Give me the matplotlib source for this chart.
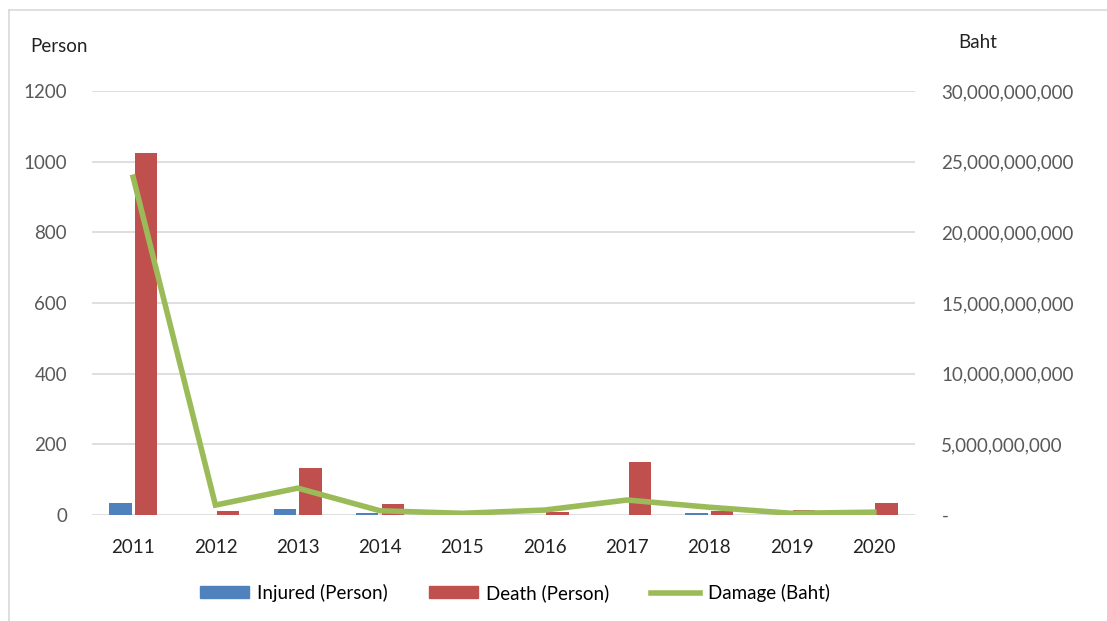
import matplotlib.pyplot as plt
from matplotlib.lines import Line2D
from matplotlib.ticker import FuncFormatter
import numpy as np

years = ['2011', '2012', '2013', '2014', '2015', '2016', '2017', '2018', '2019', '2020']
injured = [34, 0, 17, 5, 0, 0, 0, 5, 0, 0]
death = [1025, 12, 134, 31, 0, 8, 150, 12, 13, 34]
damage = [23.9e9, 0.7e9, 1.9e9, 0.3e9, 0.12e9, 0.35e9, 1.06e9, 0.55e9, 0.12e9, 0.2e9]

BLUE = '#4F81BD'
RED = '#C0504D'
GREEN = '#9BBB59'
GRAY = '#595959'
FS = 13.5

plt.rcParams['font.family'] = ['Lato', 'DejaVu Sans']

fig = plt.figure(figsize=(11.07, 6.21), dpi=100)
ax = fig.add_axes([92/1107, 1-515/621, (915-92)/1107, (515-91)/621])
x = np.arange(len(years))
w = 0.27
ax.bar(x - 0.155, injured, w, color=BLUE, zorder=3)
ax.bar(x + 0.155, death, w, color=RED, zorder=3)
ax.set_xlim(-0.5, len(years) - 0.5)
ax.set_ylim(0, 1200)
ax.set_yticks(range(0, 1201, 200))
ax.set_xticks(x)
ax.set_xticklabels(years)
ax.yaxis.grid(True, color='#D9D9D9', lw=1.2, zorder=0)
ax.tick_params(axis='y', length=0, pad=18, labelsize=FS, labelcolor=GRAY)
ax.tick_params(axis='x', length=0, pad=17, labelsize=FS, labelcolor='#222222')
for s in ax.spines.values():
    s.set_visible(False)

ax2 = ax.twinx()
ax2.plot(x, damage, color=GREEN, lw=4, zorder=4, solid_joinstyle='miter')
ax2.set_ylim(0, 30e9)
ax2.set_yticks(np.arange(0, 30.1e9, 5e9))
ax2.yaxis.set_major_formatter(FuncFormatter(lambda v, p: '-' if v == 0 else '{:,.0f}'.format(v)))
ax2.tick_params(axis='y', length=0, pad=19, labelsize=FS, labelcolor=GRAY)
for s in ax2.spines.values():
    s.set_visible(False)
# line on top of bars
ax.set_zorder(1)
ax2.set_zorder(2)
ax2.patch.set_visible(False)

fig.text(30/1107, 1-46/621, 'Person', fontsize=FS, color='#222222', va='center')
fig.text(958/1107, 1-42/621, 'Baht', fontsize=FS, color='#222222', va='center')

handles = [plt.Rectangle((0, 0), 1, 1, color=BLUE),
           plt.Rectangle((0, 0), 1, 1, color=RED),
           Line2D([], [], color=GREEN, lw=4)]
fig.legend(handles, ['Injured (Person)', 'Death (Person)', 'Damage (Baht)'],
           loc='center', bbox_to_anchor=(515/1107, 1-593/621), ncol=3, frameon=False,
           fontsize=FS, handlelength=2.6, handleheight=0.6, columnspacing=2.2,
           handletextpad=0.45)

# chart frame
fig.add_artist(Line2D([9/1107, 9/1107], [0, 1-10/621], color='#D9D9D9', lw=1.2))
fig.add_artist(Line2D([9/1107, 1], [1-10/621, 1-10/621], color='#D9D9D9', lw=1.2))

fig.savefig('out.png', dpi=100)
